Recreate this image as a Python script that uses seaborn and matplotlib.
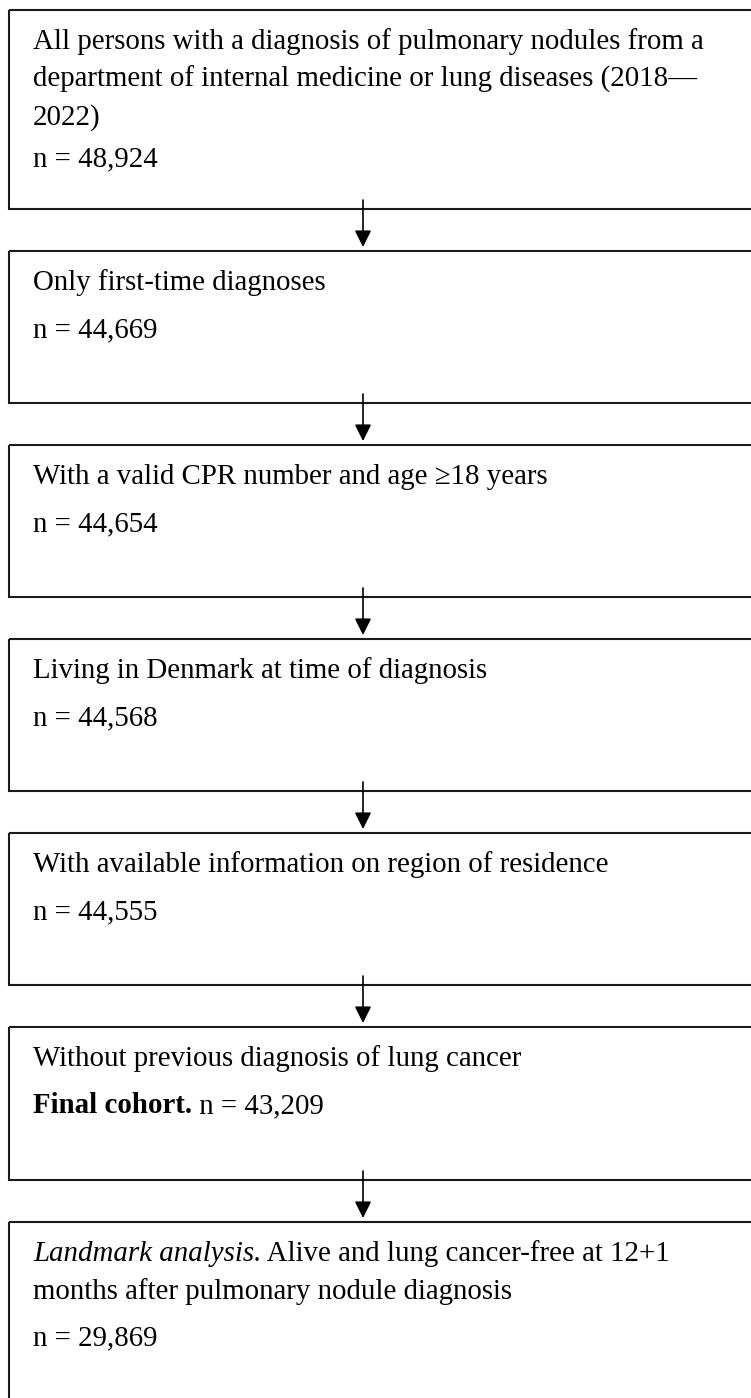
import matplotlib
matplotlib.use("Agg")
import matplotlib.pyplot as plt
from matplotlib.patches import Rectangle
import seaborn as sns

# -----------------------------
# Flowchart content
# -----------------------------
step_lines = [
    ["All persons with a diagnosis of pulmonary nodules from a",
     "department of internal medicine or lung diseases (2018\u2014",
     "2022)"],
    ["Only first-time diagnoses"],
    ["With a valid CPR number and age \u226518 years"],
    ["Living in Denmark at time of diagnosis"],
    ["With available information on region of residence"],
    ["Without previous diagnosis of lung cancer"],
    [" Alive and lung cancer-free at 12+1",
     "months after pulmonary nodule diagnosis"],
]
step_counts = ["48,924", "44,669", "44,654", "44,568", "44,555", "43,209", "29,869"]
# prefix drawn before the first line (italic) or before the count (bold)
line_prefix = [None, None, None, None, None, None, "Landmark analysis."]
count_prefix = [None, None, None, None, None, "Final cohort.", None]

# -----------------------------
# Layout (pixels, y grows downward)
# -----------------------------
W, H = 751, 1398
box_left, box_right = 9, 790
box_heights = [199, 152, 152, 152, 152, 153, 200]
count_gaps = [41, 47, 47, 47, 47, 47, 46]
gap = 42
first_top = 10
text_x = 33
first_base = 39      # baseline of first line below box top
line_step = 38       # between wrapped lines
arrow_x = 363
FS = 20.8

sns.set_theme(style="white")
plt.rcParams["font.family"] = ["Liberation Serif", "DejaVu Serif"]

fig = plt.figure(figsize=(W / 100, H / 100), dpi=100)
ax = fig.add_axes([0, 0, 1, 1])
ax.set_xlim(0, W)
ax.set_ylim(H, 0)
ax.axis("off")

tops = []
y = first_top
for h in box_heights:
    tops.append(y)
    y += h + gap

renderer = fig.canvas.get_renderer()
inv = ax.transData.inverted()


def text_after(first, y, rest, **kw):
    """draw `rest` right after the text artist `first` on the same baseline"""
    bb = first.get_window_extent(renderer=renderer)
    x1 = inv.transform((bb.x1, bb.y0))[0]
    return ax.text(x1, y, rest, fontsize=FS, va="baseline", ha="left", color="black", **kw)


for i, lines in enumerate(step_lines):
    top = tops[i]
    ax.add_patch(Rectangle((box_left, top), box_right - box_left, box_heights[i],
                           fill=False, edgecolor="#1a1a1a", lw=1.5, clip_on=True))
    yb = top + first_base
    for j, ln in enumerate(lines):
        if j == 0 and line_prefix[i]:
            t0 = ax.text(text_x, yb, line_prefix[i], fontsize=FS, va="baseline",
                         ha="left", style="italic", color="black")
            text_after(t0, yb, ln)
        else:
            ax.text(text_x, yb, ln, fontsize=FS, va="baseline", ha="left", color="black")
        if j < len(lines) - 1:
            yb += line_step
    yb += count_gaps[i]
    if count_prefix[i]:
        t0 = ax.text(text_x, yb, count_prefix[i], fontsize=FS, va="baseline",
                     ha="left", weight="bold", color="black")
        text_after(t0, yb, " n = " + step_counts[i])
    else:
        ax.text(text_x, yb, "n = " + step_counts[i], fontsize=FS, va="baseline",
                ha="left", color="black")

    # arrow to next box
    if i < len(step_lines) - 1:
        y_start = top + box_heights[i] - 9
        y_end = tops[i + 1] - 4
        ax.annotate("", xy=(arrow_x, y_end), xytext=(arrow_x, y_start),
                    arrowprops=dict(arrowstyle="-|>", color="black", lw=1.2,
                                    mutation_scale=25, shrinkA=0, shrinkB=0))

fig.savefig("out.png", dpi=100, facecolor="white")
